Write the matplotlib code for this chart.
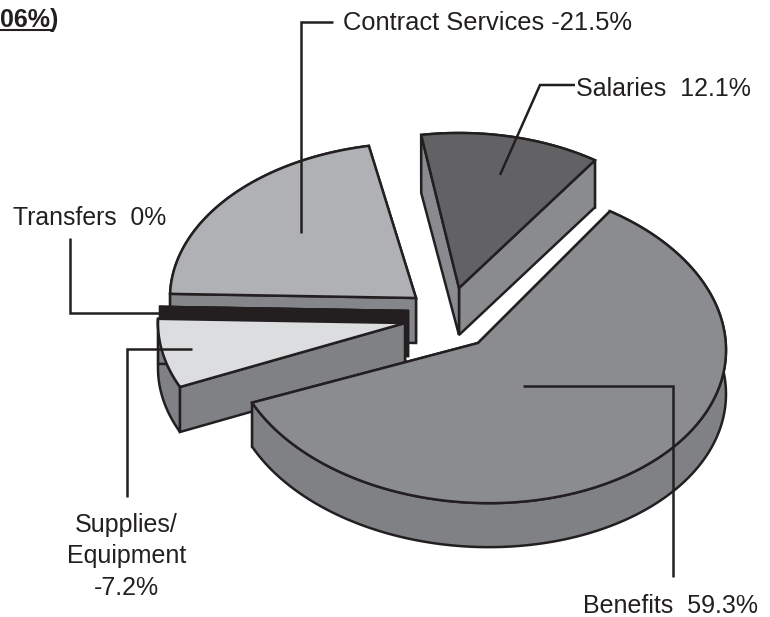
import numpy as np
import matplotlib
matplotlib.use('Agg')
import matplotlib.pyplot as plt
from matplotlib.patches import Polygon

plt.rcParams['font.family'] = ['Liberation Sans', 'DejaVu Sans']

##### slice data, in drawing sequence going counterclockwise
categories = ['Salaries', 'Contract Services', 'Transfers', 'Supplies/Equipment', 'Benefits']
changes = [12.1, -21.5, 0, -7.2, 59.3]

##### styles and where each exploded slice sits (pixels)
top_colors = ['#626264', '#b0b1b5', '#231f20', '#dcddde', '#8b8c8f']
side_colors = ['#8a8b8f', '#85868a', '#231f20', '#808185', '#808185']
apex_x = [459, 416, 408, 405, 478]
apex_y = [288, 298, 311, 323, 343]
radius_x = [240, 246, 248, 247, 248]
radius_y = [155, 155, 155, 155, 160]
tilt = [0, 0, 0, 0, 7]
depth = [47, 45, 45, 45, 44]
far_depth = [58, 45, 45, 45, 44]
nudge = [-2, 0, 0, 0, 0]
paint_order = [1, 0, 2, 3, 4]

start_angle = 57.5
ink = '#231f20'
lw = 1.8


def rim(i, a0, a1):
    t = np.radians(np.linspace(a0, a1, 160))
    xs = apex_x[i] + radius_x[i] * np.cos(t)
    ys = apex_y[i] - radius_y[i] * np.sin(t) + tilt[i] * np.cos(t)
    return np.column_stack([xs, ys])


def face(ax, pts, color):
    ax.add_patch(Polygon(pts, closed=True, facecolor=color, edgecolor=ink,
                         linewidth=lw, joinstyle='miter'))


fig = plt.figure(figsize=(7.7, 6.17), dpi=100)
ax = fig.add_axes([0, 0, 1, 1])
ax.set_xlim(0, 770)
ax.set_ylim(617, 0)
ax.axis('off')

# sweep of each slice from its share of the 360 degrees
sweeps = [abs(v) * 3.6 for v in changes]
edges = start_angle + np.concatenate([[0], np.cumsum(sweeps)])

for i in paint_order:
    arc = rim(i, edges[i] + nudge[i], edges[i + 1] + nudge[i])
    apex = np.array([apex_x[i], apex_y[i]])
    down = np.array([0, depth[i]])
    far = np.array([0, far_depth[i]])
    wall = np.vstack([arc, arc[::-1] + down])
    cuts = [[apex, arc[0], arc[0] + down, apex + down],
            [apex, arc[-1], arc[-1] + far, apex + down]]
    # the big slice shows its wall in front, the small ones show their cut faces
    if sweeps[i] > 180:
        for c in cuts:
            face(ax, c, side_colors[i])
        face(ax, wall, side_colors[i])
    else:
        face(ax, wall, side_colors[i])
        for c in cuts:
            face(ax, c, side_colors[i])
    face(ax, np.vstack([[apex], arc]), top_colors[i])

##### leader lines
leaders = [
    ([301, 301, 333], [233, 22, 22]),
    ([500, 540, 575], [175, 85, 85]),
    ([70, 70, 160], [238, 313, 313]),
    ([192, 127, 127], [349, 349, 497]),
    ([523, 673, 673], [386, 386, 577]),
]
for xs, ys in leaders:
    ax.plot(xs, ys, color=ink, lw=lw, solid_joinstyle='miter', solid_capstyle='butt')

##### labels
ax.text(343, 30, 'Contract Services -21.5%', fontsize=18.4, color=ink, ha='left', va='baseline')
ax.text(576, 96, 'Salaries  12.1%', fontsize=18, color=ink, ha='left', va='baseline')
ax.text(13, 225, 'Transfers  0%', fontsize=17.8, color=ink, ha='left', va='baseline')
ax.text(126, 532, 'Supplies/', fontsize=18, color=ink, ha='center', va='baseline')
ax.text(127, 563, 'Equipment', fontsize=18, color=ink, ha='center', va='baseline')
ax.text(126.5, 595, '-7.2%', fontsize=18, color=ink, ha='center', va='baseline')
ax.text(583, 613, 'Benefits  59.3%', fontsize=18, color=ink, ha='left', va='baseline')

# tail of the heading, underlined
ax.text(58, 27, '06%)', fontsize=18, fontweight='bold', color=ink, ha='right', va='baseline')
ax.plot([0, 52], [29.5, 29.5], color=ink, lw=1.5)

fig.savefig('out.png', dpi=100)
